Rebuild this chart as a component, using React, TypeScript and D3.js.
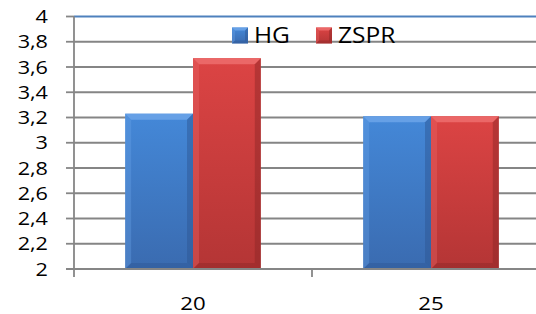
import * as d3 from "d3";
import { useEffect, useRef } from "react";

const categories = ["20", "25"];
const seriesNames = ["HG", "ZSPR"];
const hgValues = [3.23, 3.21];
const zsprValues = [3.67, 3.21];
const yTicks = [2, 2.2, 2.4, 2.6, 2.8, 3, 3.2, 3.4, 3.6, 3.8, 4];

const palette = {
  HG: { light: "#6aa3e8", face1: "#4488d8", face2: "#3a6bb0", dark: "#2c5590" },
  ZSPR: { light: "#ec6b6b", face1: "#dc4444", face2: "#b43535", dark: "#8a2626" },
};

export default function App() {
  const svgRef = useRef<SVGSVGElement>(null);

  useEffect(() => {
    if (!svgRef.current) return;
    const svg = d3.select(svgRef.current);
    svg.selectAll("*").remove();

    const width = 536;
    const left = 74;
    const top = 16.5;
    const bottom = 269;
    const right = 550; // plot runs off the right edge

    const font = "'Open Sans', sans-serif";
    const stretch = 1.17; // text in the picture is wide

    const y = d3.scaleLinear().domain([2, 4]).range([bottom, top]);
    const x0 = d3.scaleBand().domain(categories).range([left, right]).paddingInner(0.43).paddingOuter(0.215);
    const x1 = d3.scaleBand().domain(seriesNames).range([0, x0.bandwidth()]);
    const xEdges = d3.scaleBand().domain(categories).range([left, right]);

    const defs = svg.append("defs");
    seriesNames.forEach((s) => {
      const c = palette[s];
      const g = defs.append("linearGradient").attr("id", "face-" + s).attr("x1", 0).attr("y1", 0).attr("x2", 0).attr("y2", 1);
      g.append("stop").attr("offset", "0%").attr("stop-color", c.face1);
      g.append("stop").attr("offset", "100%").attr("stop-color", c.face2);
    });

    // gridlines
    svg.append("g")
      .selectAll("line")
      .data(yTicks.filter((t) => t !== 2 && t !== 4))
      .enter()
      .append("line")
      .attr("x1", left)
      .attr("x2", width)
      .attr("y1", (d) => y(d))
      .attr("y2", (d) => y(d))
      .attr("stroke", "#858585")
      .attr("stroke-width", 1.8);

    // top border (blue)
    svg.append("line")
      .attr("x1", left).attr("x2", width)
      .attr("y1", y(4)).attr("y2", y(4))
      .attr("stroke", "#4f81bd").attr("stroke-width", 1.8);

    // bevelled bars
    const drawBar = (g, bx, bw, yTop, yBot, s, bevel) => {
      const c = palette[s];
      const xr = bx + bw;
      g.append("rect").attr("x", bx).attr("y", yTop).attr("width", bw).attr("height", yBot - yTop).attr("fill", `url(#face-${s})`);
      const poly = (pts, fill, op) =>
        g.append("polygon").attr("points", pts.map((p) => p.join(",")).join(" ")).attr("fill", fill).attr("opacity", op);
      poly([[bx, yTop], [xr, yTop], [xr - bevel, yTop + bevel], [bx + bevel, yTop + bevel]], c.light, 0.9);
      poly([[bx, yTop], [bx + bevel, yTop + bevel], [bx + bevel, yBot - bevel], [bx, yBot]], c.light, 0.35);
      poly([[xr, yTop], [xr, yBot], [xr - bevel, yBot - bevel], [xr - bevel, yTop + bevel]], c.dark, 0.45);
      poly([[bx, yBot], [bx + bevel, yBot - bevel], [xr - bevel, yBot - bevel], [xr, yBot]], c.dark, 0.4);
    };

    const valuesBySeries = { HG: hgValues, ZSPR: zsprValues };
    const bars = svg.append("g");
    categories.forEach((cat, i) => {
      seriesNames.forEach((s) => {
        const bx = x0(cat) + x1(s);
        drawBar(bars, bx, x1.bandwidth(), y(valuesBySeries[s][i]), y(2), s, 6);
      });
    });

    // axes
    svg.append("line").attr("x1", left).attr("x2", left).attr("y1", y(4)).attr("y2", bottom + 8).attr("stroke", "#868686").attr("stroke-width", 1.8);
    svg.append("line").attr("x1", left - 8).attr("x2", width).attr("y1", bottom).attr("y2", bottom).attr("stroke", "#868686").attr("stroke-width", 1.8);

    svg.append("g")
      .selectAll("line")
      .data(yTicks)
      .enter()
      .append("line")
      .attr("x1", left - 8).attr("x2", left)
      .attr("y1", (d) => y(d)).attr("y2", (d) => y(d))
      .attr("stroke", "#868686").attr("stroke-width", 1.8);

    svg.append("g")
      .selectAll("line")
      .data(categories.slice(1))
      .enter()
      .append("line")
      .attr("x1", (d) => xEdges(d)).attr("x2", (d) => xEdges(d))
      .attr("y1", bottom).attr("y2", bottom + 8)
      .attr("stroke", "#868686").attr("stroke-width", 1.8);

    const fmt = (d) => String(d).replace(".", ",");
    svg.append("g")
      .selectAll("text")
      .data(yTicks)
      .enter()
      .append("text")
      .attr("transform", (d) => `translate(48,${y(d)}) scale(${stretch},1)`)
      .attr("dy", "0.36em")
      .attr("text-anchor", "end")
      .attr("font-family", font)
      .attr("font-size", 18.5)
      .attr("fill", "#000")
      .text(fmt);

    svg.append("g")
      .selectAll("text")
      .data(categories)
      .enter()
      .append("text")
      .attr("transform", (d) => `translate(${x0(d) + x0.bandwidth() / 2},303) scale(${stretch},1)`)
      .attr("dy", "0.36em")
      .attr("text-anchor", "middle")
      .attr("font-family", font)
      .attr("font-size", 19)
      .attr("fill", "#000")
      .text((d) => d);

    // legend
    const legendX = { HG: 232, ZSPR: 316 };
    const legend = svg.append("g");
    seriesNames.forEach((s) => {
      drawBar(legend, legendX[s], 16, 27.5, 43.5, s, 3);
      legend.append("text")
        .attr("transform", `translate(${legendX[s] + 22},43) scale(${stretch},1)`)
        .attr("font-family", font)
        .attr("font-size", 21)
        .attr("fill", "#000")
        .text(s);
    });
  }, []);

  return (
    <svg
      ref={svgRef}
      width={536}
      height={314}
      style={{ position: "absolute", left: 0, top: 0, background: "#fff" }}
    />
  );
}
